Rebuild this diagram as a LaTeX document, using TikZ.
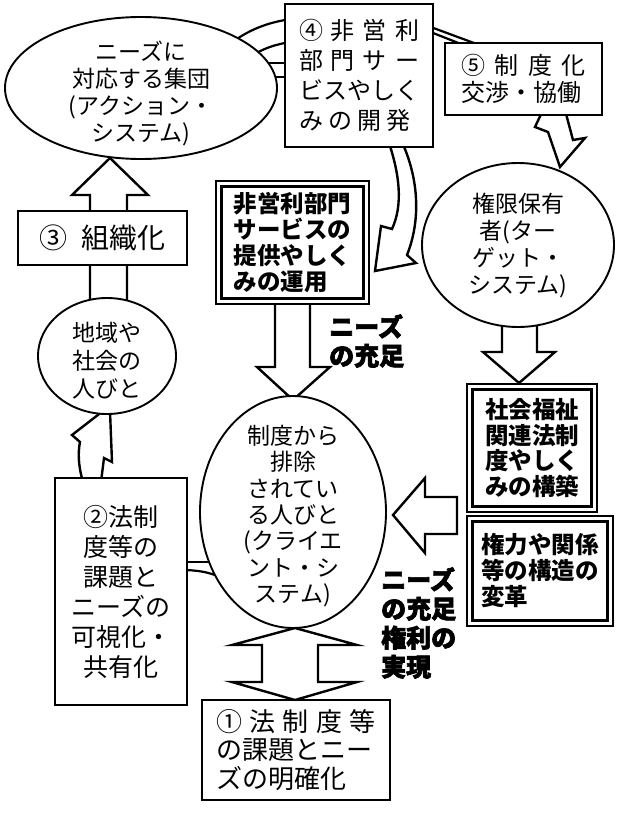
\documentclass[tikz,border=0pt]{standalone}
\usepackage{fontspec}
\newfontfamily\jp{Noto Sans CJK JP}
\newfontfamily\jph{Noto Sans CJK JP}[BoldFeatures={FakeBold=2.5}]
\usetikzlibrary{shapes.geometric}
\begin{document}
\begin{tikzpicture}[x=1pt,y=-1pt,
  blk/.style={draw, line width=2.4pt, fill=white, line join=miter},
  bln/.style={draw, line width=2.2pt},
  ell/.style={ellipse, draw, line width=1.9pt, fill=white, inner sep=0pt},
  bx/.style={rectangle, draw, line width=2.7pt, fill=white, inner sep=0pt},
  dbx/.style={rectangle, draw, line width=2.2pt, double=white, double distance=3.3pt, fill=white, inner sep=0pt},
  etxt/.style={font=\jp\fontsize{23}{27}\selectfont, align=center, inner sep=0pt},
  btxt/.style={font=\jp\fontsize{24}{30}\selectfont, align=left},
  dtxt/.style={font=\jp\bfseries\fontsize{23.5}{26}\selectfont, align=left},
  htxt/.style={font=\jph\bfseries\fontsize{25}{29}\selectfont, align=left, inner sep=0pt, anchor=west},
]
\fill[white] (0,0) rectangle (621,819);
\useasboundingbox (0,0) rectangle (621,819);

% background cycle bands
\draw[bln] (230,44) .. controls (248,30) and (268,22) .. (292,19);
\draw[bln] (250,57) .. controls (262,49) and (275,44) .. (292,42);
\draw[bln] (255,63) -- (292,63);
\draw[bln] (262,77) -- (292,77);
\draw[bln] (428,26) -- (474,43);
\draw[bln] (428,31) -- (466,46);
\draw[bln] (180,562) -- (215,562);
\draw[bln] (180,570) .. controls (198,570) and (208,572) .. (220,577);

% block arrows
\draw[blk] (90,302) -- (90,195) -- (72,195) -- (110,158) -- (148,195) -- (127,195) -- (127,302) -- cycle;
\draw[blk] (275,300) -- (275,367) -- (257,367) -- (293,400) -- (330,367) -- (310,367) -- (310,300) -- cycle;
\draw[blk] (388,140) .. controls (400,175) and (403,205) .. (392,229) -- (381,226) -- (375,271) -- (416,263) -- (407,255) .. controls (421,220) and (419,178) .. (401,140) -- cycle;
\draw[blk] (543,110) -- (535,127) -- (548,132) -- (560,167) -- (585,138) -- (573,140) -- (565,110) -- cycle;
\draw[blk] (457,497) -- (425,497) -- (425,478) -- (393,515) -- (425,553) -- (425,534) -- (457,534) -- cycle;
\draw[blk] (502,320) -- (502,352) -- (483,352) -- (519,383) -- (555,352) -- (537,352) -- (537,320) -- cycle;
\draw[blk] (295,628) -- (357,645) -- (318,645) -- (318,682) -- (357,682) -- (295,700) -- (232,682) -- (262,682) -- (262,645) -- (232,645) -- cycle;
\draw[blk] (83,482) .. controls (78,465) and (78,452) .. (80,442) -- (72,435) -- (103,411) -- (110,411) -- (112,462) -- (104,458) -- (101,482) -- cycle;

% ellipses
\node[ell, minimum width=272pt, minimum height=142pt] (e1) at (141,88) {};
\node[etxt] (e1t) at (141,93) {ニーズに\\対応する集団\\(アクション・\\システム)};
\node[ell, minimum width=192pt, minimum height=164pt] (e2) at (518,245) {};
\node[etxt] (e2t) at (518,246) {権限保有\\者(ター\\ゲット・\\システム)};
\node[ell, minimum width=186pt, minimum height=232pt] (e3) at (293,512) {};
\node[etxt, font=\jp\fontsize{23}{26.3}\selectfont] (e3t) at (293,516) {制度から\\排除\\されてい\\る人びと\\(クライエ\\ント・シ\\ステム)};
\node[ell, minimum width=138pt, minimum height=116pt] (e4) at (107,356) {};
\node[etxt, font=\jp\fontsize{23}{28}\selectfont] (e4t) at (107,361) {地域や\\社会の\\人びと};

% boxes
\node[bx, minimum width=148pt, minimum height=143pt, btxt] (b4) at (359,75.5)
 {\makebox[120pt][s]{④\hfil 非\hfil 営\hfil 利}\\\makebox[120pt][s]{部\hfil 門\hfil サ\hfil ー}\\\makebox[120pt][s]{ビ\hfil ス\hfil や\hfil し\hfil く}\\\makebox[112pt][s]{み\hfil の\hfil 開\hfil 発}};
\node[bx, minimum width=157pt, minimum height=72pt, btxt, font=\jp\fontsize{24}{27}\selectfont] (b5) at (523.5,79)
 {\makebox[125pt][s]{⑤\hfil 制\hfil 度\hfil 化}\\交渉・協働};
\node[bx, minimum width=169pt, minimum height=54pt, font=\jp\fontsize{28}{32}\selectfont] (b3) at (102.5,238) {③\hspace{14pt}組織化};
\node[bx, minimum width=132pt, minimum height=227pt, align=center, font=\jp\fontsize{25}{30}\selectfont] (b2) at (121,591.5)
 {②法制\\度等の\\課題と\\ニーズの\\可視化・\\共有化};
\node[bx, minimum width=188pt, minimum height=100pt, align=left, font=\jp\fontsize{26}{28.5}\selectfont] (b1) at (296,750)
 {\makebox[160pt][s]{①\hfil 法\hfil 制\hfil 度\hfil 等}\\の課題とニー\\ズの明確化};
\node[dbx, minimum width=147.5pt, minimum height=117.5pt, dtxt] (n1) at (292.5,242.5) {非営利部門\\サービスの\\提供やしく\\みの運用};
\node[dbx, minimum width=124.5pt, minimum height=122.5pt, dtxt, font=\jp\bfseries\fontsize{23.5}{25.6}\selectfont] (s1) at (532,448) {社会福祉\\関連法制\\度やしく\\みの構築};
\node[dbx, minimum width=140.5pt, minimum height=104.5pt, dtxt] (s2) at (540,571) {権力や関係\\等の構造の\\変革};

% heavy labels
\node[htxt] (h1) at (329,341) {ニーズ\\の充足};
\node[htxt] (h2) at (381,623) {ニーズ\\の充足\\権利の\\実現};
\end{tikzpicture}
\end{document}
